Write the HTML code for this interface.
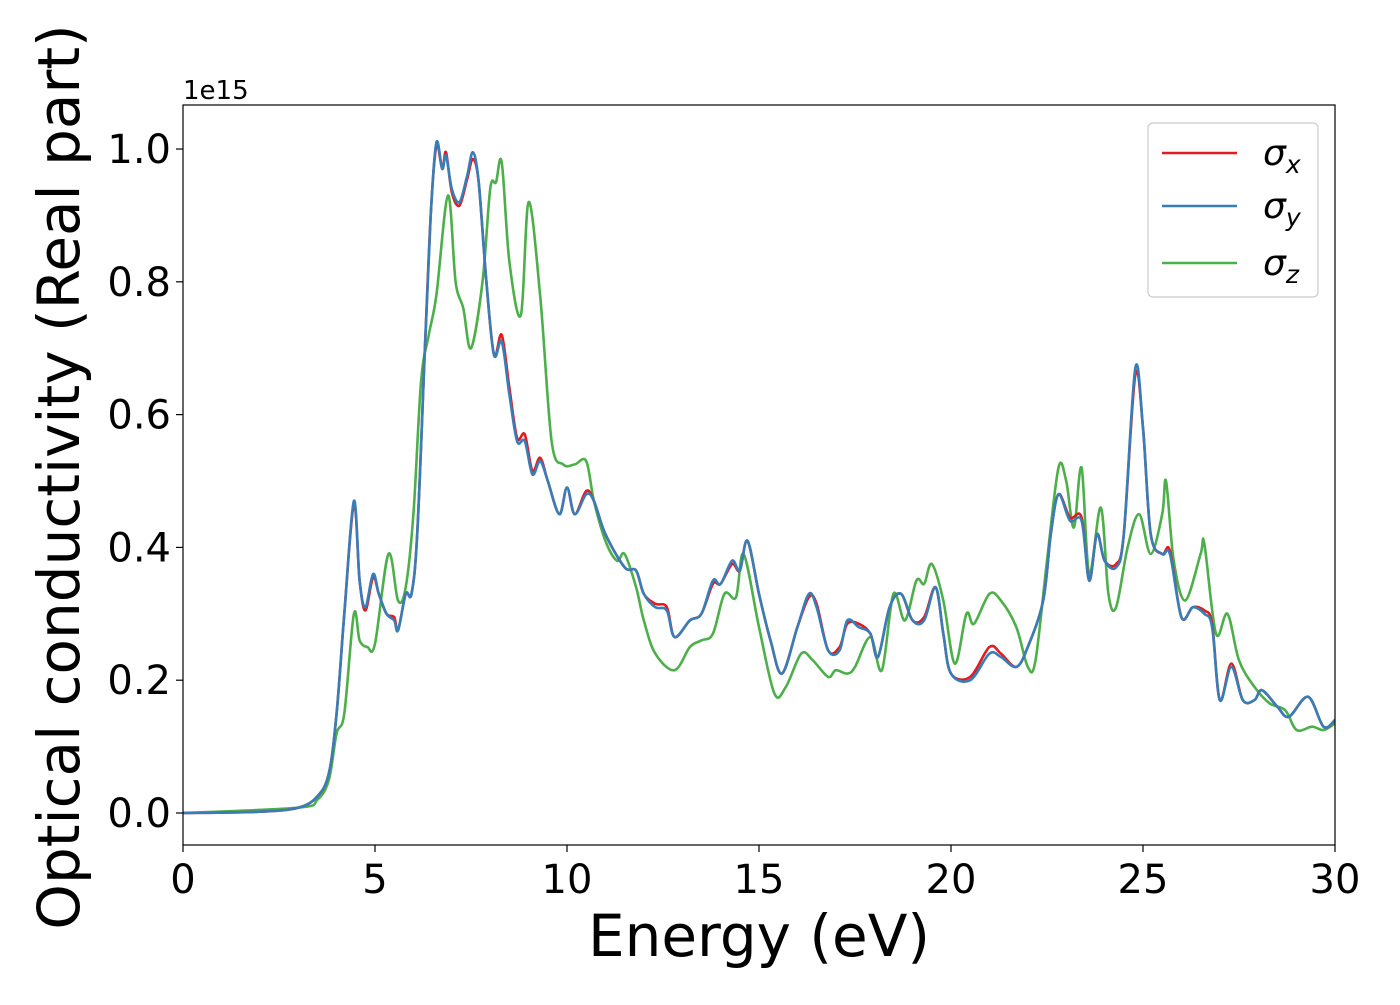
<!DOCTYPE html>
<html><head><meta charset="utf-8"><style>
html,body{margin:0;padding:0;background:#fff;}
svg text{font-family:"DejaVu Sans","Liberation Sans",sans-serif;}
</style></head><body>
<svg id="chart" width="1400" height="1000" viewBox="0 0 1400 1000" xmlns="http://www.w3.org/2000/svg">
<g id="plot"></g>
<text x="183" y="99" font-size="26">1e15</text>
<text x="759" y="956" font-size="58" text-anchor="middle">Energy (eV)</text>
<text transform="translate(79,477) rotate(-90)" font-size="58" text-anchor="middle">Optical conductivity (Real part)</text>
<g>
<rect x="1148" y="123" width="170" height="174" rx="5" fill="#fff" fill-opacity="0.8" stroke="#ccc" stroke-width="1.2"/>
<line x1="1162" y1="153" x2="1237" y2="153" stroke="#e41a1c" stroke-width="2.6"/>
<text x="1263" y="165" font-size="36" font-style="italic">σ<tspan font-size="25" dy="8">x</tspan></text>
<line x1="1162" y1="206" x2="1237" y2="206" stroke="#377eb8" stroke-width="2.6"/>
<text x="1263" y="218" font-size="36" font-style="italic">σ<tspan font-size="25" dy="8">y</tspan></text>
<line x1="1162" y1="263" x2="1237" y2="263" stroke="#4daf4a" stroke-width="2.6"/>
<text x="1263" y="275" font-size="36" font-style="italic">σ<tspan font-size="25" dy="8">z</tspan></text>
</g>
</svg>
<script>
const ticksX=[0,5,10,15,20,25,30];
const tickLabelsX=["0","5","10","15","20","25","30"];
const ticksY=[0,0.2,0.4,0.6,0.8,1.0];
const tickLabelsY=["0.0","0.2","0.4","0.6","0.8","1.0"];
const eXY=[0,2,3,3.5,3.8,4.0,4.2,4.45,4.6,4.75,4.95,5.1,5.3,5.5,5.6,5.8,5.95,6.1,6.3,6.45,6.6,6.75,6.85,7.0,7.2,7.4,7.55,7.7,7.9,8.1,8.3,8.5,8.7,8.9,9.1,9.3,9.5,9.8,10.0,10.2,10.5,10.7,11,11.5,11.8,12,12.3,12.6,12.8,13.2,13.5,13.8,14,14.3,14.5,14.7,15,15.3,15.6,16,16.3,16.5,16.8,17.1,17.3,17.6,17.9,18.1,18.4,18.7,19,19.3,19.6,19.8,20,20.5,21,21.3,21.7,22,22.4,22.6,22.8,23.1,23.4,23.6,23.8,24,24.3,24.5,24.8,25,25.2,25.5,25.7,26,26.3,26.6,26.8,27,27.3,27.6,27.9,28.1,28.5,28.8,29.3,29.7,30];
const sigmaY=[0,0.002,0.008,0.025,0.06,0.15,0.3,0.47,0.35,0.31,0.36,0.33,0.30,0.29,0.275,0.33,0.33,0.42,0.7,0.9,1.01,0.97,0.99,0.94,0.92,0.96,0.995,0.95,0.8,0.69,0.71,0.63,0.56,0.56,0.51,0.53,0.5,0.45,0.49,0.45,0.48,0.47,0.42,0.37,0.365,0.33,0.31,0.305,0.265,0.29,0.30,0.35,0.345,0.38,0.365,0.41,0.33,0.26,0.21,0.28,0.33,0.31,0.245,0.245,0.29,0.28,0.27,0.235,0.31,0.33,0.29,0.29,0.34,0.27,0.21,0.2,0.24,0.235,0.22,0.25,0.32,0.42,0.48,0.44,0.44,0.35,0.42,0.38,0.37,0.42,0.67,0.58,0.42,0.39,0.39,0.295,0.31,0.30,0.28,0.17,0.22,0.17,0.17,0.185,0.16,0.145,0.175,0.13,0.14];
const sigmaX=[0,0.002,0.008,0.025,0.06,0.15,0.3,0.465,0.35,0.305,0.355,0.33,0.30,0.295,0.275,0.33,0.33,0.42,0.7,0.9,1.005,0.97,0.995,0.935,0.915,0.955,0.985,0.95,0.8,0.69,0.72,0.64,0.565,0.57,0.515,0.535,0.5,0.45,0.49,0.45,0.485,0.47,0.42,0.37,0.365,0.33,0.315,0.31,0.265,0.29,0.30,0.345,0.345,0.375,0.365,0.41,0.33,0.26,0.21,0.28,0.325,0.315,0.245,0.25,0.285,0.285,0.27,0.235,0.31,0.33,0.29,0.295,0.34,0.27,0.21,0.205,0.25,0.24,0.22,0.25,0.32,0.42,0.48,0.445,0.445,0.35,0.42,0.38,0.375,0.42,0.66,0.58,0.42,0.39,0.395,0.295,0.31,0.305,0.285,0.17,0.225,0.17,0.17,0.185,0.16,0.145,0.175,0.13,0.14];
const eZ=[0,3,3.5,3.8,4.0,4.2,4.45,4.6,4.8,5.0,5.35,5.6,5.8,6.0,6.2,6.4,6.6,6.9,7.1,7.3,7.5,7.8,8.0,8.15,8.3,8.5,8.8,9.0,9.3,9.6,9.9,10.2,10.5,10.7,11,11.3,11.5,11.8,12,12.3,12.8,13.2,13.5,13.8,14.1,14.4,14.6,15,15.4,15.7,16.1,16.4,16.8,17,17.3,17.5,17.9,18.2,18.5,18.8,19.1,19.3,19.5,19.8,20.1,20.4,20.6,21,21.3,21.7,22.0,22.2,22.5,22.8,23.0,23.2,23.4,23.6,23.9,24.1,24.3,24.6,24.9,25.2,25.5,25.6,25.8,26.1,26.5,26.6,26.9,27.2,27.5,27.9,28.3,28.7,29,29.4,29.7,30];
const sigmaZ=[0,0.008,0.02,0.05,0.12,0.15,0.3,0.26,0.25,0.255,0.39,0.32,0.34,0.45,0.65,0.72,0.78,0.93,0.8,0.76,0.7,0.8,0.94,0.95,0.98,0.83,0.75,0.92,0.78,0.56,0.525,0.525,0.53,0.47,0.41,0.38,0.39,0.34,0.29,0.24,0.215,0.25,0.26,0.27,0.33,0.325,0.39,0.28,0.18,0.19,0.24,0.23,0.205,0.215,0.21,0.22,0.265,0.215,0.33,0.29,0.35,0.345,0.375,0.32,0.225,0.3,0.285,0.33,0.32,0.28,0.22,0.23,0.38,0.52,0.5,0.43,0.52,0.36,0.46,0.33,0.31,0.4,0.45,0.39,0.45,0.5,0.38,0.32,0.39,0.405,0.27,0.3,0.23,0.19,0.165,0.155,0.125,0.13,0.125,0.135];

const NS="http://www.w3.org/2000/svg";
const L=183,R=1335,T=105,B=845;
const xMin=0,xMax=30,yMin=-0.0482,yMax=1.0663;
function sx(v){return L+(v-xMin)/(xMax-xMin)*(R-L);}
function sy(v){return B-(v-yMin)/(yMax-yMin)*(B-T);}
const g=document.getElementById('plot');
function mk(tag,attrs,parent){const e=document.createElementNS(NS,tag);for(const k in attrs)e.setAttribute(k,attrs[k]);(parent||g).appendChild(e);return e;}

const clip=mk('clipPath',{id:'pc'});
mk('rect',{x:L,y:T,width:R-L,height:B-T},clip);

function pathFor(xs,ys){
  const p=xs.map((x,i)=>[sx(x),sy(ys[i])]);
  let d='M'+p[0][0].toFixed(1)+','+p[0][1].toFixed(1);
  for(let i=0;i<p.length-1;i++){
    const p0=p[Math.max(i-1,0)],p1=p[i],p2=p[i+1],p3=p[Math.min(i+2,p.length-1)];
    const c1=[p1[0]+(p2[0]-p0[0])/6,p1[1]+(p2[1]-p0[1])/6];
    const c2=[p2[0]-(p3[0]-p1[0])/6,p2[1]-(p3[1]-p1[1])/6];
    d+='C'+c1[0].toFixed(1)+','+c1[1].toFixed(1)+' '+c2[0].toFixed(1)+','+c2[1].toFixed(1)+' '+p2[0].toFixed(1)+','+p2[1].toFixed(1);
  }
  return d;
}
const series=[[eXY,sigmaX,'#e41a1c','sigma-x-line'],[eXY,sigmaY,'#377eb8','sigma-y-line'],[eZ,sigmaZ,'#4daf4a','sigma-z-line']];
const drawOrder=[2,0,1];
drawOrder.forEach(i=>{const s=series[i];
  const el=mk('path',{d:pathFor(s[0],s[1]),fill:'none',stroke:s[2],'stroke-width':2.6,'clip-path':'url(#pc)'});
  
  
});

const frame=mk('rect',{x:L,y:T,width:R-L,height:B-T,fill:'none',stroke:'#000','stroke-width':1.2});



ticksX.forEach((v,i)=>{
  mk('line',{x1:sx(v),x2:sx(v),y1:B,y2:B+7,stroke:'#000','stroke-width':1.2});
  const t=mk('text',{x:sx(v),y:B+48,'text-anchor':'middle','font-size':40});
  t.textContent=tickLabelsX[i];
  
  
});
ticksY.forEach((v,i)=>{
  mk('line',{x1:L-7,x2:L,y1:sy(v),y2:sy(v),stroke:'#000','stroke-width':1.2});
  const t=mk('text',{x:L-12,y:sy(v)+14,'text-anchor':'end','font-size':40});
  t.textContent=tickLabelsY[i];
  
  
});
</script>
</body></html>
